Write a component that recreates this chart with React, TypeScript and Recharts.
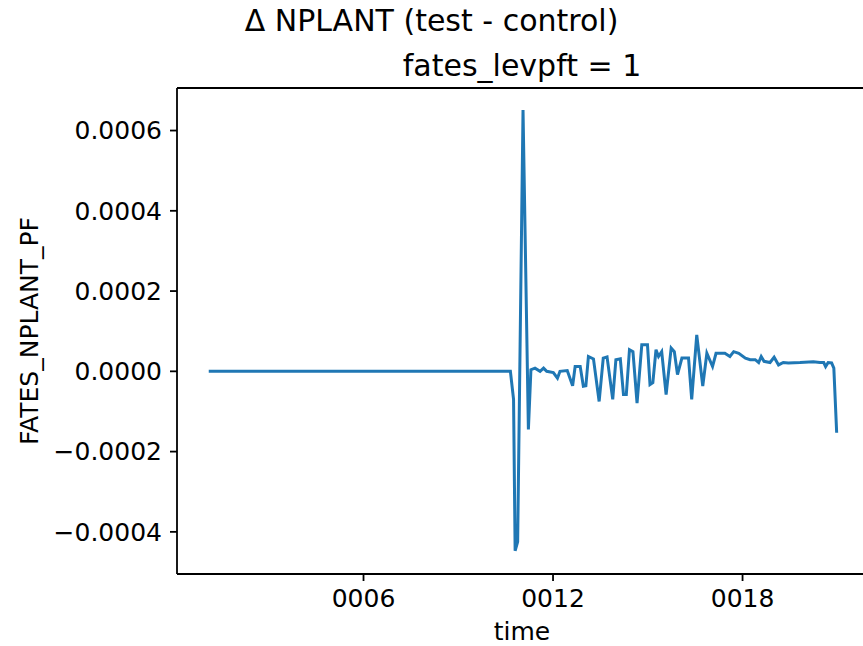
import { Line, LineChart, ReferenceLine, XAxis, YAxis } from "recharts";

// years since model start (cftime axis shown as 0006, 0012, ...)
const times = [
  1.1, 2.1, 3.1, 4.11, 5.11, 6.11, 7.12, 8.12, 9.12, 10.12, 10.65, 10.75, 10.8, 10.88,
  11.05, 11.22, 11.3, 11.43, 11.59, 11.7, 11.8, 12.01, 12.14, 12.22, 12.45, 12.62, 12.7,
  12.86, 12.96, 13.04, 13.12, 13.28, 13.46, 13.59, 13.71, 13.89, 13.99, 14.13, 14.23,
  14.32, 14.42, 14.53, 14.66, 14.81, 14.99, 15.07, 15.16, 15.26, 15.34, 15.44, 15.58,
  15.74, 15.84, 15.94, 16.08, 16.29, 16.39, 16.55, 16.74, 16.87, 17.05, 17.16, 17.44,
  17.6, 17.72, 17.88, 18.09, 18.24, 18.4, 18.51, 18.59, 18.68, 18.87, 19.0, 19.14, 19.29,
  19.45, 19.82, 20.24, 20.45, 20.57, 20.63, 20.71, 20.82, 20.89, 20.98,
];

const nplantDiff = [
  0, 0, 0, 0, 0, 0, 0, 0, 0, 0, 0, -0.00007, -0.000447, -0.000425, 0.000651, -0.000145,
  0.000004, 0.000008, 0, 0.000008, 0, -0.000003, -0.000017, 0, 0.000002, -0.000036,
  0.000012, 0.000012, -0.000037, -0.000036, 0.000037, 0.000031, -0.000075, 0.000033,
  0.000036, -0.00007, 0.000029, 0.000031, -0.000058, -0.000058, 0.000054, 0.000049,
  -0.000079, 0.000066, 0.000066, -0.000033, -0.000028, 0.000054, 0.000037, 0.000049,
  -0.000058, 0.000058, 0.000049, -0.000008, 0.000033, 0.000033, -0.00007, 0.000091,
  -0.000037, 0.000045, 0.000012, 0.000045, 0.000045, 0.000037, 0.000049, 0.000045,
  0.000033, 0.000029, 0.000029, 0.000022, 0.000037, 0.000025, 0.000022, 0.000035,
  0.000016, 0.000022, 0.000021, 0.000022, 0.000024, 0.000022, 0.000022, 0.000012,
  0.000022, 0.000021, 0.000008, -0.000153,
];

const xTicks = [6, 12, 18];
const yTicks = [-0.0004, -0.0002, 0, 0.0002, 0.0004, 0.0006];
const xDomain = [0.095, 21.94];
const yDomain = [-0.000505, 0.000706];

const data = times.map((t, i) => ({ t, v: nplantDiff[i] }));

const font = "'DejaVu Sans', sans-serif";
const tickStyle = { fill: "#000", fontSize: 25, fontFamily: font };
const spine = { stroke: "#000", strokeWidth: 1.8 };

const fmtYear = (v: number) => String(Math.round(v)).padStart(4, "0");
const fmtVal = (v: number) => (v < -1e-12 ? "\u2212" : "") + Math.abs(v).toFixed(4);

export default function App() {
  return (
    <div
      style={{
        position: "absolute",
        left: 0,
        top: 0,
        width: 863,
        height: 646,
        overflow: "hidden",
        background: "#fff",
        fontFamily: font,
        color: "#000",
      }}
    >
      <div style={{ position: "absolute", left: 0, width: 863, top: 6, textAlign: "center", fontSize: 30, lineHeight: 1 }}>
        Δ NPLANT (test - control)
      </div>
      <div style={{ position: "absolute", left: 222, width: 600, top: 51, textAlign: "center", fontSize: 30, lineHeight: 1 }}>
        fates_levpft = 1
      </div>

      <LineChart width={880} height={646} data={data} margin={{ top: 88, right: 13, bottom: 12, left: 57 }}>
        <XAxis
          dataKey="t"
          type="number"
          domain={xDomain}
          ticks={xTicks}
          tickFormatter={fmtYear}
          allowDataOverflow
          height={60}
          tick={tickStyle}
          tickSize={7}
          tickMargin={8}
          axisLine={spine}
          tickLine={spine}
        />
        <YAxis
          type="number"
          domain={yDomain}
          ticks={yTicks}
          tickFormatter={fmtVal}
          allowDataOverflow
          width={120}
          tick={tickStyle}
          tickSize={7}
          tickMargin={8}
          axisLine={spine}
          tickLine={spine}
        />
        {/* top spine; the right one falls just outside the picture */}
        <ReferenceLine y={yDomain[1]} stroke="#000" strokeWidth={1.8} />
        <Line
          type="linear"
          dataKey="v"
          stroke="#1f77b4"
          strokeWidth={3}
          dot={false}
          isAnimationActive={false}
        />
      </LineChart>

      <div style={{ position: "absolute", left: 222, width: 600, top: 619, textAlign: "center", fontSize: 25, lineHeight: 1 }}>
        time
      </div>
      <div
        style={{
          position: "absolute",
          left: 29,
          top: 331,
          fontSize: 25,
          lineHeight: 1,
          whiteSpace: "nowrap",
          transform: "translate(-50%, -50%) rotate(-90deg)",
        }}
      >
        FATES_NPLANT_PF
      </div>
    </div>
  );
}
